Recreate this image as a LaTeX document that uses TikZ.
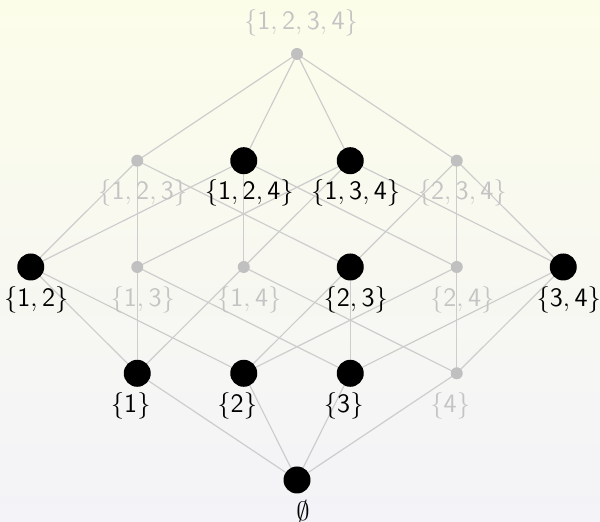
\RequirePackage{fix-cm}
\documentclass[tikz,border=0pt]{standalone}
\usetikzlibrary{calc}
\definecolor{bgtop}{RGB}{252,253,233}
\definecolor{bgmid}{RGB}{248,248,241}
\definecolor{bgbot}{RGB}{243,243,248}
\definecolor{edgegray}{RGB}{205,205,205}
\definecolor{dotgray}{RGB}{192,192,192}
\definecolor{lblgray}{RGB}{196,196,196}
\newcommand{\setlbl}[1]{$\{\mathsf{#1}\}$}
\begin{document}
\begin{tikzpicture}[x=0.5pt,y=-0.5pt,
  bigdot/.style={circle,fill=black,inner sep=0pt,minimum size=13.5pt},
  smalldot/.style={circle,fill=dotgray,inner sep=0pt,minimum size=6pt},
  lblon/.style={inner sep=0pt,text=black,font=\fontsize{13.3}{16}\selectfont},
  lbloff/.style={inner sep=0pt,text=lblgray,font=\fontsize{13.3}{16}\selectfont},
  edge/.style={draw=edgegray,line width=0.6pt}]
\shade[top color=bgtop,bottom color=bgbot,middle color=bgmid] (0,0) rectangle (600,522);
\useasboundingbox (0,0) rectangle (600,522);
% coordinates
\def\dx{106.5}
\coordinate (c1234) at (297,54);
\coordinate (c123) at (297-1.5*\dx,160.7);
\coordinate (c124) at (297-0.5*\dx,160.7);
\coordinate (c134) at (297+0.5*\dx,160.7);
\coordinate (c234) at (297+1.5*\dx,160.7);
\coordinate (c12) at (297-2.5*\dx,267);
\coordinate (c13) at (297-1.5*\dx,267);
\coordinate (c14) at (297-0.5*\dx,267);
\coordinate (c23) at (297+0.5*\dx,267);
\coordinate (c24) at (297+1.5*\dx,267);
\coordinate (c34) at (297+2.5*\dx,267);
\coordinate (c1) at (297-1.5*\dx,373.3);
\coordinate (c2) at (297-0.5*\dx,373.3);
\coordinate (c3) at (297+0.5*\dx,373.3);
\coordinate (c4) at (297+1.5*\dx,373.3);
\coordinate (c0) at (297,480);
% edges
\foreach \a/\b in {1234/123,1234/124,1234/134,1234/234,
  123/12,123/13,123/23,124/12,124/14,124/24,134/13,134/14,134/34,234/23,234/24,234/34,
  12/1,12/2,13/1,13/3,14/1,14/4,23/2,23/3,24/2,24/4,34/3,34/4,
  1/0,2/0,3/0,4/0}
  \path[edge] (c\a) -- (c\b);
% nodes
\node[smalldot] (n1234) at (c1234) {};
\node[smalldot] (n123) at (c123) {};
\node[bigdot] (n124) at (c124) {};
\node[bigdot] (n134) at (c134) {};
\node[smalldot] (n234) at (c234) {};
\node[bigdot] (n12) at (c12) {};
\node[smalldot] (n13) at (c13) {};
\node[smalldot] (n14) at (c14) {};
\node[bigdot] (n23) at (c23) {};
\node[smalldot] (n24) at (c24) {};
\node[bigdot] (n34) at (c34) {};
\node[bigdot] (n1) at (c1) {};
\node[bigdot] (n2) at (c2) {};
\node[bigdot] (n3) at (c3) {};
\node[smalldot] (n4) at (c4) {};
\node[bigdot] (n0) at (c0) {};
% labels
\node[lbloff] (t1234) at ($(n1234)+(4,-31)$) {\setlbl{1,2,3,4}};
\node[lbloff] (t123) at ($(n123)+(5.5,32.5)$) {\setlbl{1,2,3}};
\node[lblon] (t124) at ($(n124)+(5.5,32.5)$) {\setlbl{1,2,4}};
\node[lblon] (t134) at ($(n134)+(5.5,32.5)$) {\setlbl{1,3,4}};
\node[lbloff] (t234) at ($(n234)+(5.5,32.5)$) {\setlbl{2,3,4}};
\node[lblon] (t12) at ($(n12)+(5.5,32.5)$) {\setlbl{1,2}};
\node[lbloff] (t13) at ($(n13)+(5.5,32.5)$) {\setlbl{1,3}};
\node[lbloff] (t14) at ($(n14)+(5.5,32.5)$) {\setlbl{1,4}};
\node[lblon] (t23) at ($(n23)+(5.5,32.5)$) {\setlbl{2,3}};
\node[lbloff] (t24) at ($(n24)+(5.5,32.5)$) {\setlbl{2,4}};
\node[lblon] (t34) at ($(n34)+(5.5,32.5)$) {\setlbl{3,4}};
\node[lblon] (t1) at ($(n1)+(-6.5,32.5)$) {\setlbl{1}};
\node[lblon] (t2) at ($(n2)+(-6.5,32.5)$) {\setlbl{2}};
\node[lblon] (t3) at ($(n3)+(-6.5,32.5)$) {\setlbl{3}};
\node[lbloff] (t4) at ($(n4)+(-6.5,32.5)$) {\setlbl{4}};
\node[lblon] (t0) at ($(n0)+(6,31)$) {$\emptyset$};
\end{tikzpicture}
\end{document}
